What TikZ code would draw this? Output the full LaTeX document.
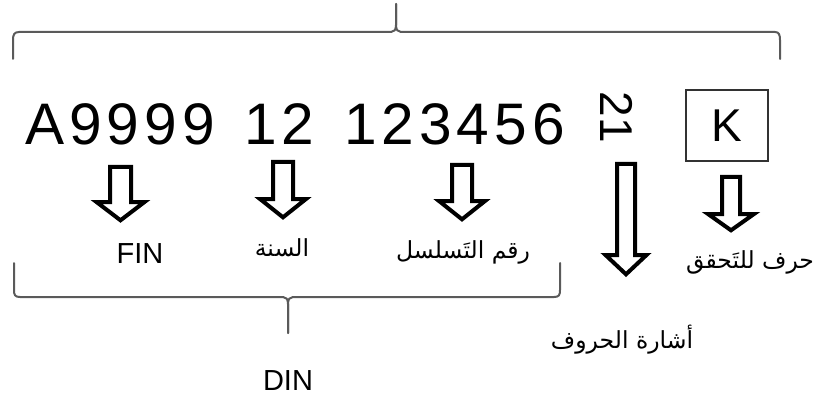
\documentclass[tikz,border=0pt]{standalone}
\usepackage{fontspec}
\setmainfont{Liberation Sans}
\newfontfamily\arabicfont[Script=Arabic]{DejaVu Sans}
\TeXXeTstate=1
\tikzset{
  bracestyle/.style={draw={rgb,255:red,90;green,90;blue,90}, line width=2pt, line join=round, line cap=round},
  blockarr/.style={draw=black, fill=white, line width=4pt, line join=miter},
  bigtext/.style={inner sep=0pt, font=\fontsize{58.6}{60}\selectfont},
  midtext/.style={inner sep=0pt, font=\fontsize{46}{48}\selectfont},
  latlabel/.style={inner sep=0pt, font=\fontsize{29}{31}\selectfont},
  arlabel/.style={inner sep=0pt, font=\arabicfont\fontsize{23.5}{26}\selectfont},
}
\newcommand\blockarrow[6]{% cx, top, headstart, tip, shafthalf, headhalf (outer)
  \draw[blockarr] ({#1-#5+2},{#2+2}) -- ({#1+#5-2},{#2+2}) -- ({#1+#5-2},{#3+2})
     -- ({#1+#6-2},{#3+2}) -- ({#1},{#4-2.7}) -- ({#1-#6+2},{#3+2})
     -- ({#1-#5+2},{#3+2}) -- cycle;}
\newcommand\lk{\kern5pt }
\begin{document}
\begin{tikzpicture}[x=1pt,y=-1pt]
\useasboundingbox (0,0) rectangle (821,398);
% top brace
\draw[bracestyle] (13,59) -- (13,40) .. controls (13,35) and (14,32) .. (19,32) -- (391,32)
  .. controls (394,32) and (396,30) .. (396,25) -- (396,4);
\draw[bracestyle] (396,4) -- (396,25) .. controls (396,30) and (398,32) .. (401,32) -- (775,32)
  .. controls (779,32) and (780,35) .. (780,40) -- (780,59);
% main number
\node[bigtext, anchor=base west] (w1) at (25,145) {A\lk 9\lk 9\lk 9\lk 9};
\node[bigtext, anchor=base west] (w2) at (244,145) {1\lk 2};
\node[bigtext, anchor=base west] (w3) at (344,145) {1\lk 2\lk 3\lk 4\lk 5\lk 6};
\node[midtext, anchor=base west, rotate=-90] (r21) at (600,91.5) {21};
\node[draw={rgb,255:red,50;green,50;blue,50}, line width=1.3pt, minimum width=82pt, minimum height=71pt, inner sep=0pt] (kbox) at (727,125.5) {};
\node[midtext] (k) at (kbox.center) {K};
% arrows
\blockarrow{120.5}{165}{200}{223}{12.5}{26}
\blockarrow{283}{160}{197}{220}{12}{25}
\blockarrow{462}{163}{199}{222}{12}{25}
\blockarrow{626}{162}{253}{277}{11}{22.5}
\blockarrow{731}{175}{212}{233}{11}{25}
% labels
\node[latlabel] (fin) at (140,254) {FIN};
\node[arlabel] (sana) at (282,248) {\beginR السنة\endR};
\node[arlabel] (raqm) at (463,252) {\beginR رقم التَسلسل\endR};
\node[arlabel] (harf) at (750,262) {\beginR حرف للتَحقق\endR};
\node[arlabel] (ishara) at (622,340) {\beginR أشارة الحروف\endR};
\node[latlabel] (din) at (288,381) {DIN};
% bottom brace
\draw[bracestyle] (14,263) -- (14,290) .. controls (14,295) and (15,297) .. (20,297) -- (283,297)
  .. controls (286,297) and (288,299) .. (288,304) -- (288,333);
\draw[bracestyle] (288,333) -- (288,304) .. controls (288,299) and (290,297) .. (293,297) -- (554,297)
  .. controls (559,297) and (560,295) .. (560,290) -- (560,263);
\end{tikzpicture}
\end{document}
